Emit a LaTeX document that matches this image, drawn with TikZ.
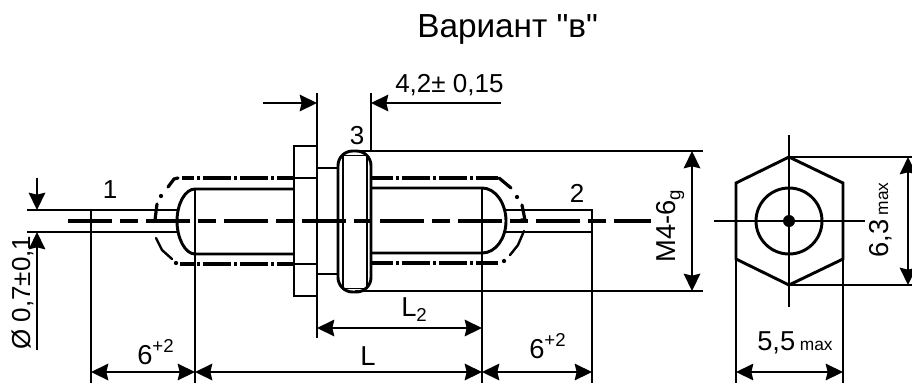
\documentclass[tikz,border=0pt]{standalone}
\usepackage{fontspec}
\setmainfont{Liberation Sans}
\newfontfamily\plainfont{Liberation Sans}
\usetikzlibrary{arrows.meta}
\tikzset{
  thickl/.style={line width=2.2pt,line join=miter},
  thinl/.style={line width=1.15pt},
  axisl/.style={line width=2.5pt,dash pattern=on 33pt off 5.8pt on 13.8pt off 5.9pt},
  phantoml/.style={line width=2.5pt,dash pattern=on 21pt off 2.25pt on 2.25pt off 2.25pt},
  cornerl/.style={line width=2.4pt,line cap=round},
  dimd/.style={thinl,{Stealth[length=13pt,width=12.5pt,inset=1.5pt]}-{Stealth[length=13pt,width=12.5pt,inset=1.5pt]}},
  dimr/.style={thinl,-{Stealth[length=13pt,width=12.5pt,inset=1.5pt]}},
  lab/.style={inner sep=0pt,font=\fontsize{19.5}{19.5}\selectfont},
  labb/.style={inner sep=0pt,font=\fontsize{20.5}{20.5}\selectfont},
}
\newcommand{\smalltxt}[1]{{\fontsize{13}{13}\selectfont #1}}
\newcommand{\lowtxt}[1]{\raisebox{-4pt}{\fontsize{14}{14}\selectfont #1}}
\newcommand{\uptxt}[1]{\raisebox{9pt}{\fontsize{14}{14}\selectfont #1}}
\begin{document}
\begin{tikzpicture}[x=0.75pt,y=-0.75pt]
\useasboundingbox (0,0) rectangle (912,383);
% title
\node[inner sep=0pt,anchor=base west,font=\fontsize{25}{25}\selectfont\plainfont] (title) at (417,37) {Вариант "в"};
% axis
\draw[axisl] (68,221) -- (651,221);
% body
\draw[thickl] (294,189) -- (195,189) .. controls (185,189) and (177,204) .. (177,221) .. controls (177,238) and (185,254) .. (195,254) -- (294,254);
\draw[thickl] (195,189) -- (195,254);
\draw[thickl] (371,188) -- (482,188) .. controls (496,188) and (506,204) .. (506,221) .. controls (506,238) and (496,253) .. (482,253) -- (371,253);
\draw[thickl] (482,188) -- (482,253);
% leads
\draw[thickl] (177,210) -- (91,210) -- (91,232) -- (177,232);
\draw[thickl] (506,210) -- (592,210) -- (592,232) -- (506,232);
% flange, neck, ring
\draw[thickl] (294,146) rectangle (317,296);
\draw[thickl] (317,168) -- (338,168) (317,274) -- (338,274);
\draw[thickl,rounded corners=11pt] (338,151) rectangle (371,292);
\draw[line width=1.5pt] (343,156) -- (343,287) (367,156) -- (367,287);
\draw[line width=.7pt] (343,155) -- (367,155) (343,288) -- (367,288);
% phantom outline, left
\draw[phantoml,dash phase=8pt] (294,178) -- (182,178);
\draw[phantoml,dash phase=8pt] (294,264) -- (180,264);
\draw[cornerl] (178,178) -- (174,179) -- (168,187);
\fill (161,196) circle[radius=1.6pt];
\draw[cornerl] (157,204) -- (155,220);
\draw[cornerl,line width=1.8pt] (156,238) -- (162,250) -- (172,259);
\fill (176,263) circle[radius=1.6pt];
% phantom outline, right
\draw[phantoml,dash phase=4.5pt] (371,178) -- (498,178);
\draw[phantoml,dash phase=4.5pt] (371,263) -- (498,263);
\draw[cornerl] (499,178) -- (511,188);
\fill (517,197) circle[radius=1.6pt];
\draw[cornerl] (522,205) -- (525,220) -- (521,220);
\fill (504,261) circle[radius=1.6pt];
\draw[cornerl,line width=1.8pt] (510,255) -- (518,245) -- (524,231);
\draw[thinl] (294,178) -- (317,178) (294,264) -- (317,264);
% end view
\draw[thickl] (789,157) -- (843,183) -- (843,259) -- (789,285) -- (736,259) -- (736,183) -- cycle;
\draw[thickl] (789,221) circle[radius=24.75pt];
\fill (789,221) circle[radius=4.5pt];
\draw[thinl] (789,135) -- (789,307) (714,221) -- (865,221);
% extension lines
\draw[thinl] (317,93) -- (317,338);
\draw[thinl] (371,93) -- (371,151);
\draw[thinl] (360,151) -- (703,151);
\draw[thinl] (355,291) -- (703,291);
\draw[thinl] (195,254) -- (195,383);
\draw[thinl] (91,232) -- (91,383);
\draw[thinl] (482,253) -- (482,383);
\draw[thinl] (592,232) -- (592,383);
\draw[thinl] (27,210) -- (91,210) (27,232) -- (91,232);
\draw[thinl] (789,157) -- (912,157) (789,285) -- (912,285);
\draw[thinl] (736,259) -- (736,383) (843,259) -- (843,383);
% dimensions
\draw[dimd] (91,372) -- (195,372);
\draw[dimd] (195,372) -- (482,372);
\draw[dimd] (482,372) -- (592,372);
\draw[dimd] (317,328) -- (482,328);
\draw[dimd] (692,151) -- (692,291);
\draw[dimd] (736,372) -- (843,372);
\draw[dimd] (908,157) -- (908,285);
\draw[dimr] (263,103) -- (317,103);
\draw[dimr] (501,103) -- (371,103);
\draw[dimr] (37,178) -- (37,210);
\draw[dimr] (37,350) -- (37,232);
% labels
\node[lab,anchor=base] (n1) at (110,198) {1};
\node[lab,anchor=base] (n2) at (577,202) {2};
\node[lab,anchor=base] (n3) at (357,144) {3};
\node[lab,anchor=base west] (d42) at (395,92) {4,2± 0,15};
\node[labb,anchor=base] (dl) at (368,365) {L};
\node[labb,anchor=base west] (dl2) at (401,316) {L\lowtxt{2}};
\node[labb,anchor=base west] (d6a) at (137,364) {6\uptxt{+2}};
\node[labb,anchor=base west] (d6b) at (529,358) {6\uptxt{+2}};
\node[labb,anchor=base west] (d55) at (757,350) {5,5\,\smalltxt{max}};
\node[lab,rotate=90,anchor=base west] (dia) at (30,350) {Ø 0,7±0,1};
\node[labb,rotate=90,anchor=base west] (m4) at (675,263) {M4-6\lowtxt{g}};
\node[labb,rotate=90,anchor=base west] (d63) at (888,258) {6,3\,\smalltxt{max}};
\end{tikzpicture}
\end{document}
